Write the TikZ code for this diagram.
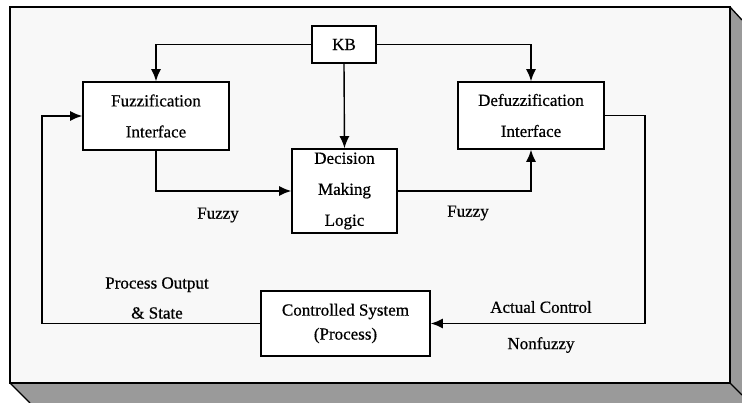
\documentclass[tikz,border=0pt]{standalone}
\usepackage{fontspec}
\setmainfont{Liberation Serif}[BoldFont={Liberation Serif},BoldFeatures={FakeBold=0.6}]
\usetikzlibrary{arrows.meta}
\definecolor{face}{HTML}{F8F8F8}
\definecolor{side}{HTML}{9A9A9A}
\begin{document}
\begin{tikzpicture}[x=1pt,y=-1pt,
  txt/.style={font=\fontsize{17}{31}\selectfont\bfseries},
  box/.style={draw,line width=1.6pt,fill=white,align=center,inner sep=0pt,txt},
  conn/.style={line width=1.4pt,-{Latex[length=12pt,width=10pt]}},
  lab/.style={txt,align=center,inner sep=0pt}]
\useasboundingbox (0,0) rectangle (742,403);
\fill[white] (0,0) rectangle (742,403);
% 3D frame
\fill[side] (10,383) -- (30,403) -- (742,403) -- (742,20) -- (730,7) -- (730,383) -- cycle;
\draw[line width=1.3pt,fill=face] (10,7) rectangle (730,383);
\draw[line width=1.3pt] (10,383) -- (30,403);
\draw[line width=1.3pt] (730,7) -- (742,20);
\draw[line width=1.3pt] (730,383) -- (742,395);
% nodes
\node[box,minimum width=64pt,minimum height=37pt] (kb) at (344,44.5) {KB};
\node[box,minimum width=146pt,minimum height=68pt] (fuzz) at (156,116) {Fuzzification\\Interface};
\node[box,minimum width=146pt,minimum height=67pt] (defuzz) at (531,115.5) {Defuzzification\\Interface};
\node[box,minimum width=105pt,minimum height=84pt,font=\fontsize{17}{31}\selectfont\bfseries] (dml) at (344.5,191) {Decision\\Making\\Logic};
\node[box,minimum width=169pt,minimum height=65pt,font=\fontsize{17}{24}\selectfont\bfseries] (cs) at (345.5,323.5) {Controlled System\\(Process)};
\coordinate (rc) at (645,220);
\coordinate (lc) at (42,220);
% connectors
\draw[conn] (kb.west) -| (fuzz.north);
\draw[conn] (kb.east) -| (defuzz.north);
\draw[conn] (kb.south) -- (dml.north);
\draw[conn] (fuzz.south) |- (dml.west);
\draw[conn] (dml.east) -| (defuzz.south);
\draw[conn] (defuzz.east) -| (rc) |- (cs.east);
\draw[conn] (cs.west) -| (lc) |- (fuzz.west);
% labels
\node[lab] (f1) at (218,215) {Fuzzy};
\node[lab] (f2) at (468,213) {Fuzzy};
\node[lab,font=\fontsize{17}{30}\selectfont\bfseries] (po) at (157,298) {Process Output\\\& State};
\node[lab] (ac) at (541,307) {Actual Control};
\node[lab] (nf) at (541,345) {Nonfuzzy};
\end{tikzpicture}
\end{document}
